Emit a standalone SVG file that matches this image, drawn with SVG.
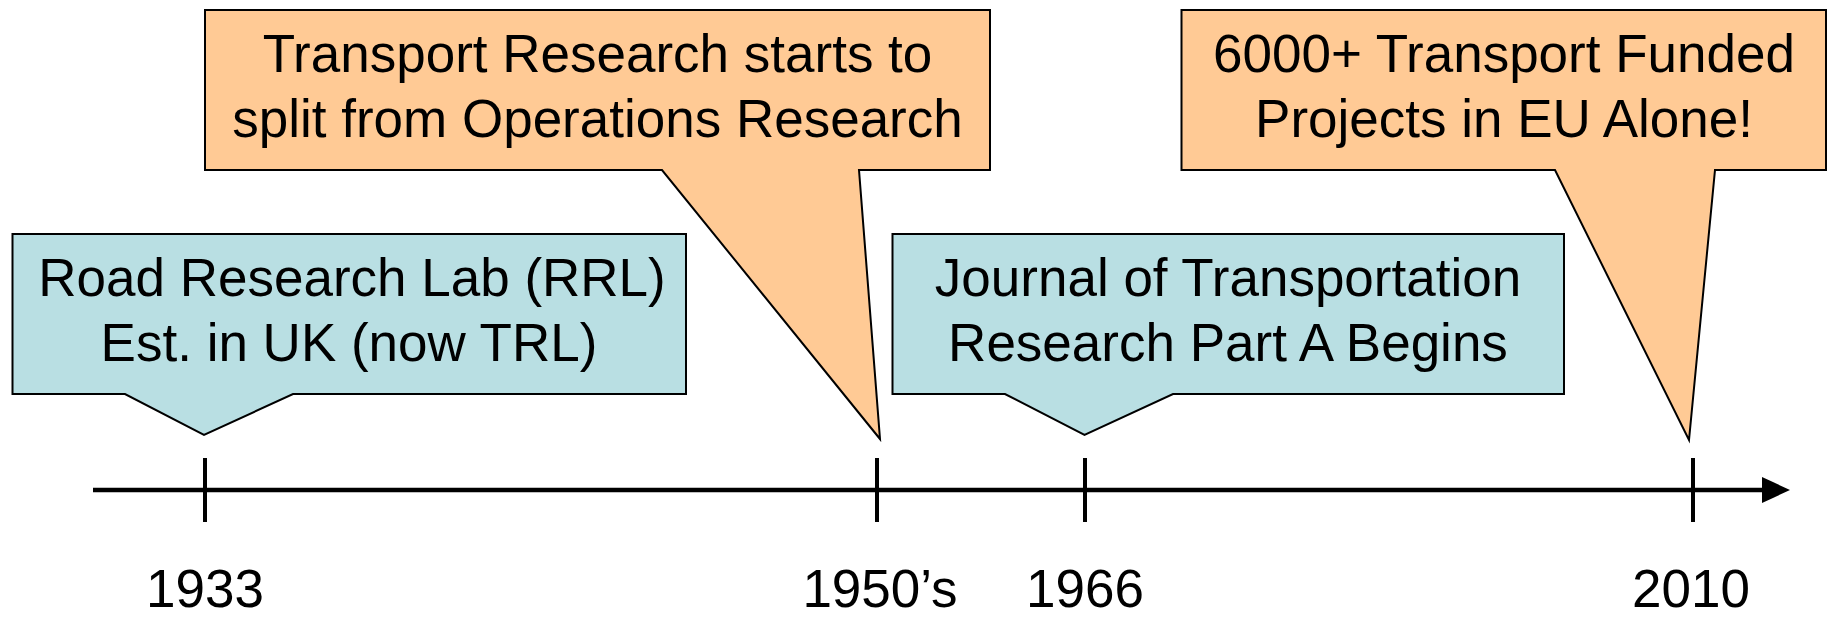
<svg xmlns="http://www.w3.org/2000/svg" width="1830" height="619" viewBox="0 0 1830 619">
<style>
  .blue { fill: #B9DFE3; stroke: #000; stroke-width: 2; stroke-linejoin: miter; }
  .orange { fill: #FFCA95; stroke: #000; stroke-width: 2; stroke-linejoin: miter; }
  .txt { font-family: "Liberation Sans", Arial, sans-serif; font-size: 53px; fill: #000; text-anchor: middle; }
  .year { font-family: "Liberation Sans", Arial, sans-serif; font-size: 53px; fill: #000; text-anchor: middle; }
  .tick { stroke: #000; stroke-width: 4; }
  .axis { stroke: #000; stroke-width: 4.5; fill: none; }
</style>
<defs>
  <marker id="arrow" markerUnits="userSpaceOnUse" markerWidth="30" markerHeight="28" refX="0" refY="13" orient="auto">
    <path d="M0,0 L28,13 L0,26 Z" fill="#000"/>
  </marker>
</defs>

<g id="connectors">
  <line class="axis" x1="93" y1="490" x2="1762" y2="490" marker-end="url(#arrow)"/>
  <line class="tick" x1="205" y1="458" x2="205" y2="522"/>
  <line class="tick" x1="877" y1="458" x2="877" y2="522"/>
  <line class="tick" x1="1085" y1="458" x2="1085" y2="522"/>
  <line class="tick" x1="1693" y1="458" x2="1693" y2="522"/>
</g>

<g id="node-rrl">
  <path class="blue" d="M12.5,234 H686 V394 H293 L204,435 L125,394 H12.5 Z"/>
  <text class="txt" x="352" y="296">Road Research Lab (RRL)</text>
  <text class="txt" x="349" y="361">Est. in UK (now TRL)</text>
</g>

<g id="node-transport-split">
  <path class="orange" d="M205,10 H990 V170 H859 L880,439 L662,170 H205 Z"/>
  <text class="txt" x="597.5" y="72">Transport Research starts to</text>
  <text class="txt" x="597.5" y="137">split from Operations Research</text>
</g>

<g id="node-journal">
  <path class="blue" d="M892.5,234 H1564 V394 H1173 L1084.5,435 L1005,394 H892.5 Z"/>
  <text class="txt" x="1228" y="296">Journal of Transportation</text>
  <text class="txt" x="1228" y="361">Research Part A Begins</text>
</g>

<g id="node-eu-projects">
  <path class="orange" d="M1181.5,10 H1826 V170 H1715 L1689,440 L1555,170 H1181.5 Z"/>
  <text class="txt" x="1504" y="72">6000+ Transport Funded</text>
  <text class="txt" x="1504" y="137">Projects in EU Alone!</text>
</g>

<g id="labels">
  <text class="year" x="205" y="607">1933</text>
  <text class="year" x="880" y="607">1950’s</text>
  <text class="year" x="1085" y="607">1966</text>
  <text class="year" x="1691" y="607">2010</text>
</g>
</svg>
